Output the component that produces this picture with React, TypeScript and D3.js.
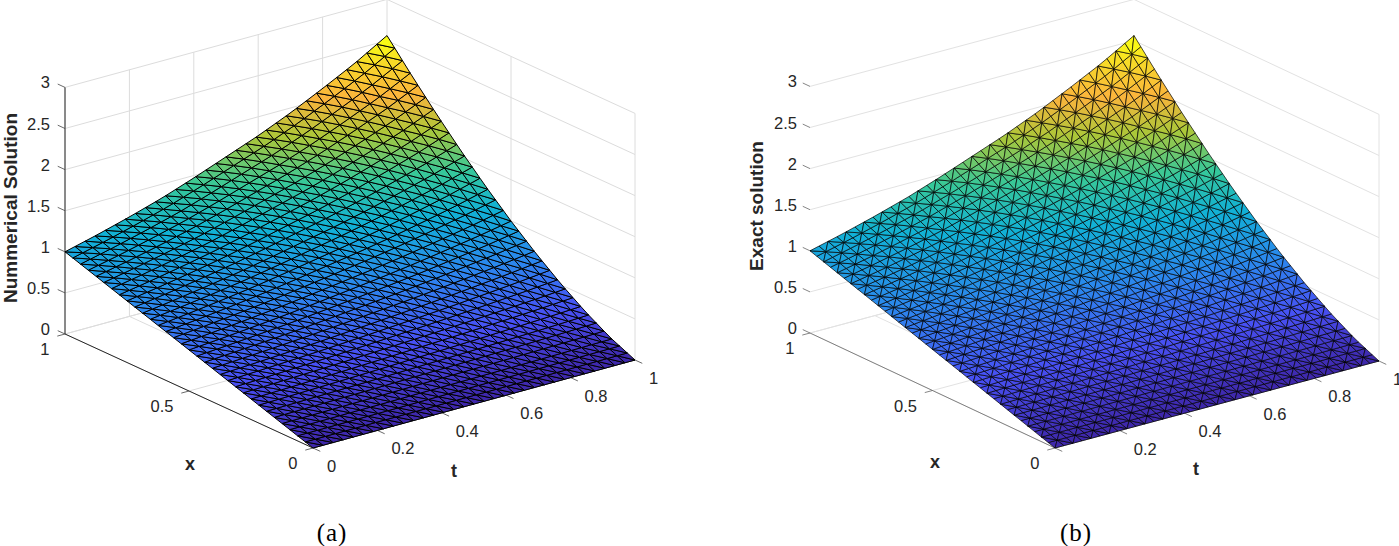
import React from 'react';
import * as d3 from 'd3';

// Heights of the surface, one list per t row, x = 0, 0.1 ... 1
const xNodes = [0, 0.1, 0.2, 0.3, 0.4, 0.5, 0.6, 0.7, 0.8, 0.9, 1];
const tNodes = [0, 0.1, 0.2, 0.3, 0.4, 0.5, 0.6, 0.7, 0.8, 0.9, 1];
const zT00 = [0, 0.1, 0.2, 0.3, 0.4, 0.5, 0.6, 0.7, 0.8, 0.9, 1];
const zT01 = [0, 0.102, 0.207, 0.314, 0.422, 0.532, 0.643, 0.756, 0.869, 0.984, 1.1];
const zT02 = [0, 0.105, 0.215, 0.329, 0.446, 0.567, 0.69, 0.817, 0.945, 1.077, 1.21];
const zT03 = [0, 0.107, 0.223, 0.345, 0.473, 0.605, 0.742, 0.883, 1.028, 1.177, 1.33];
const zT04 = [0, 0.111, 0.233, 0.364, 0.504, 0.65, 0.802, 0.961, 1.125, 1.295, 1.47];
const zT05 = [0, 0.114, 0.244, 0.385, 0.537, 0.697, 0.867, 1.044, 1.229, 1.421, 1.62];
const zT06 = [0, 0.117, 0.254, 0.406, 0.57, 0.745, 0.931, 1.127, 1.333, 1.547, 1.77];
const zT07 = [0, 0.121, 0.266, 0.429, 0.607, 0.799, 1.004, 1.222, 1.451, 1.69, 1.94];
const zT08 = [0, 0.125, 0.279, 0.455, 0.649, 0.86, 1.086, 1.327, 1.582, 1.85, 2.13];
const zT09 = [0, 0.13, 0.293, 0.482, 0.693, 0.924, 1.172, 1.438, 1.72, 2.018, 2.33];
const zT10 = [0, 0.135, 0.31, 0.514, 0.744, 0.997, 1.271, 1.566, 1.88, 2.211, 2.56];
const zRows = [zT00, zT01, zT02, zT03, zT04, zT05, zT06, zT07, zT08, zT09, zT10];

const zTicks = [0, 0.5, 1, 1.5, 2, 2.5, 3];
const xTicks = [0, 0.5, 1];
const tTicks = [0, 0.2, 0.4, 0.6, 0.8, 1];

// parula, placed on the heights where each colour shows in the picture
const colorStops = ['#3E26A8', '#4850F4', '#2C86EE', '#11B1D6', '#37C899', '#ABC739', '#FBB43C', '#F7D52B', '#F9FB15'];
const colorHeights = [0, 0.34, 0.7, 1.1, 1.42, 1.75, 2.05, 2.3, 2.5];

const font = '"Liberation Sans", Arial, sans-serif';
const textColor = '#262626';

const zColor = d3.scaleLinear<string>()
    .domain(colorHeights)
    .range(colorStops)
    .clamp(true);

// bilinear lookup in the table, the mesh is finer than the table
const xIndex = d3.scaleLinear().domain(xNodes).range(xNodes.map((_, i) => i));
const tIndex = d3.scaleLinear().domain(tNodes).range(tNodes.map((_, i) => i));
function heightAt(x: number, t: number) {
    const xi = xIndex(x);
    const ti = tIndex(t);
    const i0 = Math.min(Math.floor(xi), xNodes.length - 2);
    const j0 = Math.min(Math.floor(ti), tNodes.length - 2);
    const low = d3.interpolateNumber(zRows[j0][i0], zRows[j0][i0 + 1])(xi - i0);
    const high = d3.interpolateNumber(zRows[j0 + 1][i0], zRows[j0 + 1][i0 + 1])(xi - i0);
    return d3.interpolateNumber(low, high)(ti - j0);
}

type Panel = {
    a: [number, number]; // x=1, t=0
    b: [number, number]; // x=0, t=0
    c: [number, number]; // x=0, t=1
    zUnit: number;
    cells: number;
    unionJack: boolean;
    wallVerticals: boolean;
    zAxisLine: boolean;
    axisColor: string;
    axisWidth: number;
    tickColor: string;
    meshWidth: number;
    gridColor: string;
    zLabelDx: number;
    skipT0: boolean;
    title: string;
    titleX: number;
    titleY: number;
    xTitle: [number, number];
    tTitle: [number, number];
    caption: string;
    captionX: number;
};

const SurfacePanel = ({ p }: { p: Panel }) => {
    const [ax, ay] = p.a;
    const [bx, by] = p.b;
    const [cx, cy] = p.c;
    const sxX = d3.scaleLinear().domain([0, 1]).range([0, ax - bx]);
    const sxY = d3.scaleLinear().domain([0, 1]).range([0, ay - by]);
    const stX = d3.scaleLinear().domain([0, 1]).range([0, cx - bx]);
    const stY = d3.scaleLinear().domain([0, 1]).range([0, cy - by]);
    const sz = d3.scaleLinear().domain([0, 3]).range([0, -3 * p.zUnit]);

    const project = (x: number, t: number, z: number): [number, number] => [
        bx + sxX(x) + stX(t),
        by + sxY(x) + stY(t) + sz(z),
    ];
    const line = d3.line();
    const seg = (from: [number, number, number], to: [number, number, number]) =>
        line([project(...from), project(...to)]) as string;

    const grid: string[] = [];
    zTicks.forEach(z => {
        grid.push(seg([1, 0, z], [1, 1, z]));
        grid.push(seg([1, 1, z], [0, 1, z]));
    });
    xTicks.forEach(x => grid.push(seg([x, 0, 0], [x, 1, 0])));
    tTicks.forEach(t => grid.push(seg([1, t, 0], [0, t, 0])));
    grid.push(seg([0, 1, 0], [0, 1, 3]));
    if (p.wallVerticals) {
        tTicks.forEach(t => grid.push(seg([1, t, 0], [1, t, 3])));
        grid.push(seg([0.5, 1, 0], [0.5, 1, 3]));
    }

    // triangles of the mesh
    const n = p.cells;
    const nodes = d3.range(n + 1).map(i => i / n);
    const facets: { d: string; fill: string }[] = [];
    const addFacet = (pts: [number, number][]) => {
        const zs = pts.map(([x, t]) => heightAt(x, t));
        const d = line(pts.map(([x, t], k) => project(x, t, zs[k]))) + 'Z';
        facets.push({ d, fill: zColor(d3.mean(zs) as number) });
    };
    nodes.slice(0, n).forEach((x0, i) => {
        nodes.slice(0, n).forEach((t0, j) => {
            const x1 = nodes[i + 1];
            const t1 = nodes[j + 1];
            const flip = p.unionJack ? (i + j) % 2 === 1 : true;
            if (flip) {
                addFacet([[x0, t0], [x1, t0], [x0, t1]]);
                addFacet([[x1, t0], [x1, t1], [x0, t1]]);
            } else {
                addFacet([[x0, t0], [x1, t0], [x1, t1]]);
                addFacet([[x0, t0], [x1, t1], [x0, t1]]);
            }
        });
    });

    const tickDx = (bx - ax) / Math.hypot(bx - ax, by - ay) * 8;
    const tickDy = (by - ay) / Math.hypot(bx - ax, by - ay) * 8;
    const tNormX = (cx - bx) / Math.hypot(cx - bx, cy - by) * 8;
    const tNormY = (cy - by) / Math.hypot(cx - bx, cy - by) * 8;

    const labelStyle = { fontFamily: font, fontSize: 16.5, fill: textColor };
    const titleStyle = { fontFamily: font, fontWeight: 700, fill: textColor };

    return (
        <g>
            <g stroke={p.gridColor} strokeWidth={1} fill="none">
                {grid.map((d, i) => <path key={i} d={d} />)}
            </g>

            {/* axes and ticks */}
            <g stroke={p.axisColor} strokeWidth={p.axisWidth} fill="none">
                {p.zAxisLine && <path d={seg([1, 0, 0], [1, 0, 3])} />}
                <path d={seg([1, 0, 0], [0, 0, 0])} />
                <path d={seg([0, 0, 0], [0, 1, 0])} />
            </g>
            <g stroke={p.tickColor} strokeWidth={0.8} fill="none">
                {zTicks.map(z => {
                    const [tx, ty] = project(1, 0, z);
                    return <path key={z} d={`M${tx},${ty}L${tx - tickDx},${ty - tickDy}`} />;
                })}
                {xTicks.map(x => {
                    const [tx, ty] = project(x, 0, 0);
                    return <path key={x} d={`M${tx},${ty}L${tx - tNormX},${ty - tNormY}`} />;
                })}
                {tTicks.map(t => {
                    const [tx, ty] = project(0, t, 0);
                    return <path key={t} d={`M${tx},${ty}L${tx + tickDx},${ty + tickDy}`} />;
                })}
            </g>

            <g stroke="#000" strokeWidth={p.meshWidth} strokeLinejoin="round">
                {facets.map((f, i) => <path key={i} d={f.d} fill={f.fill} />)}
            </g>

            {zTicks.map(z => {
                const [tx, ty] = project(1, 0, z);
                return <text key={z} x={tx + p.zLabelDx} y={ty + 1} textAnchor="end" {...labelStyle}>{String(z)}</text>;
            })}
            {xTicks.map(x => {
                const [tx, ty] = project(x, 0, 0);
                return <text key={x} x={tx - 15.5} y={ty + 21} textAnchor="end" {...labelStyle}>{String(x)}</text>;
            })}
            {tTicks.filter(t => !(p.skipT0 && t === 0)).map(t => {
                const [tx, ty] = project(0, t, 0);
                return <text key={t} x={tx + 14} y={ty + 24} {...labelStyle}>{String(t)}</text>;
            })}

            <text transform={`translate(${p.titleX},${p.titleY}) rotate(-90)`} textAnchor="middle" fontSize={19} {...titleStyle}>{p.title}</text>
            <text x={p.xTitle[0]} y={p.xTitle[1]} textAnchor="middle" fontSize={18} {...titleStyle}>x</text>
            <text x={p.tTitle[0]} y={p.tTitle[1]} textAnchor="middle" fontSize={18} {...titleStyle}>t</text>
            <text x={p.captionX} y={541} textAnchor="middle" fontFamily='"Liberation Serif", serif' fontSize={25} letterSpacing={1} fill="#000">{p.caption}</text>
        </g>
    );
};

const panelA: Panel = {
    a: [65, 334], b: [313, 448], c: [635, 360], zUnit: 82.2, cells: 32, unionJack: false,
    wallVerticals: true, zAxisLine: true, axisColor: '#262626', axisWidth: 1, tickColor: '#444', meshWidth: 1, gridColor: '#dcdcdc',
    zLabelDx: -15, skipT0: false,
    title: 'Nummerical Solution', titleX: 16.5, titleY: 208, xTitle: [190, 470], tTitle: [454, 477],
    caption: '(a)', captionX: 332,
};

const panelB: Panel = {
    a: [810, 333], b: [1055, 448], c: [1379, 361], zUnit: 82.2, cells: 36, unionJack: true,
    wallVerticals: false, zAxisLine: false, axisColor: '#555', axisWidth: 0.7, tickColor: '#666', meshWidth: 0.7, gridColor: '#e2e2e2',
    zLabelDx: -13, skipT0: true,
    title: 'Exact solution', titleX: 763, titleY: 206, xTitle: [935, 468], tTitle: [1196, 475],
    caption: '(b)', captionX: 1076,
};

const App = () => (
    <svg width={1399} height={546} style={{ position: 'absolute', left: 0, top: 0, display: 'block', background: '#fff' }}>
        <SurfacePanel p={panelA} />
        <SurfacePanel p={panelB} />
    </svg>
);

export default App;
